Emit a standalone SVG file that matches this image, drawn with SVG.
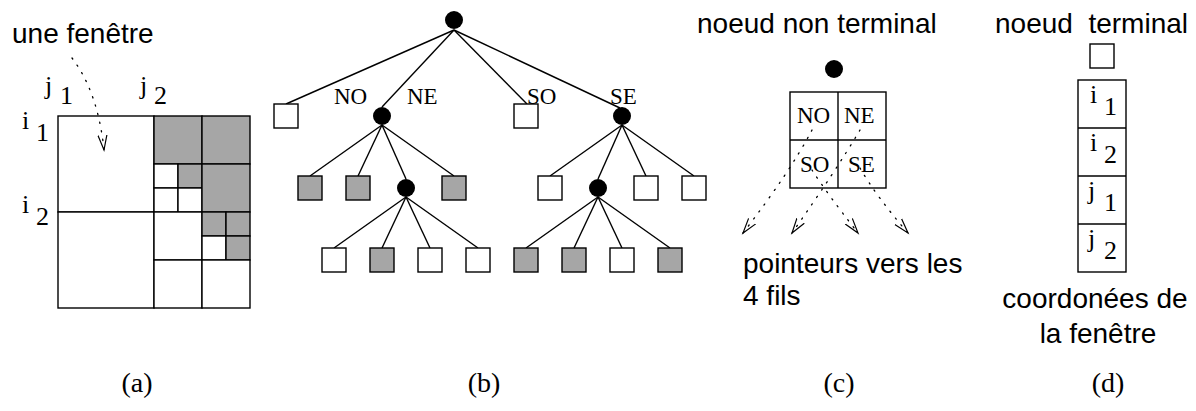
<svg xmlns="http://www.w3.org/2000/svg" width="1196" height="411" viewBox="0 0 1196 411">
<style>
.sans{font-family:"Liberation Sans",Arial,sans-serif;font-size:28px;fill:#000;white-space:pre}
.serif{font-family:"Liberation Serif","Times New Roman",serif;fill:#000}
.lbl{font-size:23px}
.idx{font-size:26px}
.cap{font-size:28px}
.w{fill:#fff;stroke:#000;stroke-width:1.4}
.g{fill:#a6a6a6;stroke:#000;stroke-width:1.4}
.dot{fill:#000}
.edge{stroke:#000;stroke-width:1.4;fill:none}
.ptr{stroke:#000;stroke-width:1.3;fill:none;stroke-dasharray:1.3 7.5;stroke-linecap:round}
</style>
<defs>
<marker id="v" markerUnits="userSpaceOnUse" markerWidth="18" markerHeight="12" refX="15" refY="6" orient="auto">
<path d="M0,1.5 L15,6 L0,10.5" fill="none" stroke="#000" stroke-width="1.2"/>
</marker>
</defs>

<!-- (a) window grid -->
<g id="grid">
<rect x="58" y="116" width="96" height="96" class="w"/>
<rect x="58" y="212" width="96" height="96" class="w"/>
<rect x="154" y="116" width="48" height="48" class="g"/>
<rect x="202" y="116" width="48" height="48" class="g"/>
<rect x="154" y="164" width="24" height="24" class="w"/>
<rect x="178" y="164" width="24" height="24" class="g"/>
<rect x="154" y="188" width="24" height="24" class="w"/>
<rect x="178" y="188" width="24" height="24" class="w"/>
<rect x="202" y="164" width="48" height="48" class="g"/>
<rect x="154" y="212" width="48" height="48" class="w"/>
<rect x="202" y="212" width="24" height="24" class="g"/>
<rect x="226" y="212" width="24" height="24" class="g"/>
<rect x="202" y="236" width="24" height="24" class="w"/>
<rect x="226" y="236" width="24" height="24" class="g"/>
<rect x="154" y="260" width="48" height="48" class="w"/>
<rect x="202" y="260" width="48" height="48" class="w"/>
</g>
<g id="labels-a">
<text x="12" y="43" class="sans">une fenêtre</text>
<text x="45" y="94" class="serif idx">j</text><text x="60" y="104" class="serif idx">1</text>
<text x="140" y="94" class="serif idx">j</text><text x="154" y="104" class="serif idx">2</text>
<text x="22" y="129" class="serif idx">i</text><text x="36" y="141" class="serif idx">1</text>
<text x="22" y="213" class="serif idx">i</text><text x="36" y="225" class="serif idx">2</text>
<text x="137" y="392" class="serif cap" text-anchor="middle">(a)</text>
</g>

<!-- (b) tree -->
<g id="tree-edges">
<line x1="454" y1="30" x2="286" y2="104" class="edge"/>
<line x1="454" y1="30" x2="382" y2="107" class="edge"/>
<line x1="454" y1="30" x2="527" y2="104" class="edge"/>
<line x1="454" y1="30" x2="620" y2="108" class="edge"/>
<line x1="382" y1="125" x2="310" y2="176" class="edge"/>
<line x1="382" y1="125" x2="358" y2="176" class="edge"/>
<line x1="382" y1="125" x2="406" y2="179" class="edge"/>
<line x1="382" y1="125" x2="454" y2="176" class="edge"/>
<line x1="622" y1="125" x2="550" y2="176" class="edge"/>
<line x1="622" y1="125" x2="598" y2="179" class="edge"/>
<line x1="622" y1="125" x2="646" y2="176" class="edge"/>
<line x1="622" y1="125" x2="694" y2="176" class="edge"/>
<line x1="406" y1="197" x2="334" y2="248" class="edge"/>
<line x1="406" y1="197" x2="382" y2="248" class="edge"/>
<line x1="406" y1="197" x2="430" y2="248" class="edge"/>
<line x1="406" y1="197" x2="478" y2="248" class="edge"/>
<line x1="598" y1="197" x2="526" y2="248" class="edge"/>
<line x1="598" y1="197" x2="574" y2="248" class="edge"/>
<line x1="598" y1="197" x2="622" y2="248" class="edge"/>
<line x1="598" y1="197" x2="670" y2="248" class="edge"/>
</g>
<g id="root"><circle cx="454" cy="20" r="9" class="dot"/></g>
<g id="n-no"><rect x="274" y="104" width="24" height="24" class="w"/></g>
<g id="n-ne"><circle cx="382" cy="116" r="9" class="dot"/></g>
<g id="n-so"><rect x="514" y="104" width="24" height="24" class="w"/></g>
<g id="n-se"><circle cx="622" cy="116" r="9" class="dot"/></g>
<g id="n-ne-1"><rect x="298" y="176" width="24" height="24" class="g"/></g>
<g id="n-ne-2"><rect x="346" y="176" width="24" height="24" class="g"/></g>
<g id="n-ne-3"><circle cx="406" cy="188" r="9" class="dot"/></g>
<g id="n-ne-4"><rect x="442" y="176" width="24" height="24" class="g"/></g>
<g id="n-se-1"><rect x="538" y="176" width="24" height="24" class="w"/></g>
<g id="n-se-2"><circle cx="598" cy="188" r="9" class="dot"/></g>
<g id="n-se-3"><rect x="634" y="176" width="24" height="24" class="w"/></g>
<g id="n-se-4"><rect x="682" y="176" width="24" height="24" class="w"/></g>
<g id="n-ne3-1"><rect x="322" y="248" width="24" height="24" class="w"/></g>
<g id="n-ne3-2"><rect x="370" y="248" width="24" height="24" class="g"/></g>
<g id="n-ne3-3"><rect x="418" y="248" width="24" height="24" class="w"/></g>
<g id="n-ne3-4"><rect x="466" y="248" width="24" height="24" class="w"/></g>
<g id="n-se2-1"><rect x="514" y="248" width="24" height="24" class="g"/></g>
<g id="n-se2-2"><rect x="562" y="248" width="24" height="24" class="g"/></g>
<g id="n-se2-3"><rect x="610" y="248" width="24" height="24" class="w"/></g>
<g id="n-se2-4"><rect x="658" y="248" width="24" height="24" class="g"/></g>
<g id="labels-b">
<text x="334" y="104" class="serif lbl">NO</text>
<text x="407" y="104" class="serif lbl">NE</text>
<text x="527" y="104" class="serif lbl">SO</text>
<text x="610" y="104" class="serif lbl">SE</text>
<text x="484" y="392" class="serif cap" text-anchor="middle">(b)</text>
</g>

<!-- (c) internal node -->
<g id="internal-node">
<text x="697" y="33" class="sans">noeud non terminal</text>
<circle cx="834" cy="69" r="9" class="dot"/>
<rect x="790" y="92" width="96" height="96" fill="#fff" stroke="#000" stroke-width="1.4"/>
<line x1="838" y1="92" x2="838" y2="188" class="edge"/>
<line x1="790" y1="140" x2="886" y2="140" class="edge"/>
<text x="797" y="123" class="serif lbl">NO</text>
<text x="844" y="123" class="serif lbl">NE</text>
<text x="800" y="172" class="serif lbl">SO</text>
<text x="848" y="172" class="serif lbl">SE</text>
<text x="743" y="273" class="sans">pointeurs vers les</text>
<text x="743" y="305" class="sans">4 fils</text>
<text x="839" y="392" class="serif cap" text-anchor="middle">(c)</text>
</g>

<!-- (d) terminal node -->
<g id="terminal-node">
<text x="995" y="33" class="sans">noeud  terminal</text>
<rect x="1090" y="44" width="24" height="24" class="w"/>
<rect x="1078" y="80" width="48" height="192" class="w"/>
<line x1="1078" y1="128" x2="1126" y2="128" class="edge"/>
<line x1="1078" y1="176" x2="1126" y2="176" class="edge"/>
<line x1="1078" y1="224" x2="1126" y2="224" class="edge"/>
<text x="1090" y="103" class="serif idx">i</text><text x="1104" y="115" class="serif idx">1</text>
<text x="1090" y="151" class="serif idx">i</text><text x="1104" y="163" class="serif idx">2</text>
<text x="1088" y="199" class="serif idx">j</text><text x="1104" y="211" class="serif idx">1</text>
<text x="1088" y="247" class="serif idx">j</text><text x="1104" y="259" class="serif idx">2</text>
<text x="1095" y="308" class="sans" text-anchor="middle">coordonées de</text>
<text x="1098" y="343" class="sans" text-anchor="middle">la fenêtre</text>
<text x="1108" y="392" class="serif cap" text-anchor="middle">(d)</text>
</g>

<!-- dotted pointers -->
<g id="connectors">
<path d="M72,58 Q98,92 104,150" class="ptr" marker-end="url(#v)"/>
<path d="M812,130 Q790,172 743,233" class="ptr" marker-end="url(#v)"/>
<path d="M860,130 Q835,172 792,233" class="ptr" marker-end="url(#v)"/>
<path d="M812,170 Q826,192 858,233" class="ptr" marker-end="url(#v)"/>
<path d="M860,168 Q876,196 908,233" class="ptr" marker-end="url(#v)"/>
</g>
</svg>
